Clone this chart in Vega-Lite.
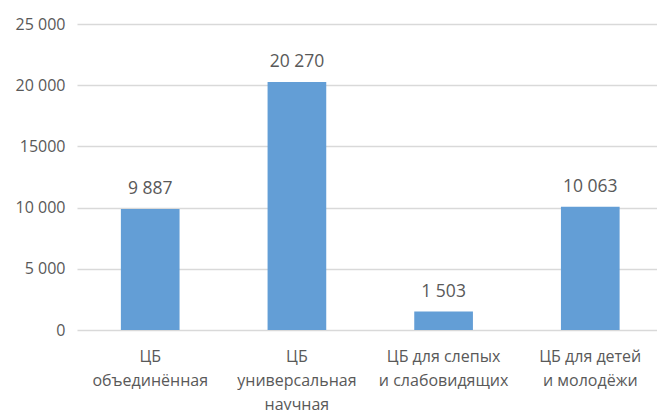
{
  "$schema": "https://vega.github.io/schema/vega-lite/v6.json",
  "autosize": {"type": "none"},
  "padding": {"left": 77, "top": 24, "right": 0, "bottom": 80},
  "width": 580,
  "height": 306,
  "background": "white",
  "config": {
    "view": {"stroke": null},
    "font": "Open Sans",
    "locale": {"number": {"decimal": ",", "thousands": " ", "grouping": [3], "currency": ["", ""]}}
  },
  "data": {
    "values": [
      {"library": "ЦБ|объединённая", "value": 9887},
      {"library": "ЦБ|универсальная|научная", "value": 20270},
      {"library": "ЦБ для слепых|и слабовидящих", "value": 1503},
      {"library": "ЦБ для детей|и молодёжи", "value": 10063}
    ]
  },
  "encoding": {
    "x": {
      "field": "library",
      "type": "nominal",
      "sort": null,
      "scale": {"paddingInner": 0.6, "paddingOuter": 0.277, "align": 0.54},
      "axis": {
        "title": null,
        "labelAngle": 0,
        "labelExpr": "split(datum.label, '|')",
        "labelFont": "Open Sans",
        "labelFontSize": 16,
        "labelColor": "#595959",
        "labelLineHeight": 24,
        "labelPadding": 18,
        "labelBaseline": "top",
        "ticks": false,
        "domain": false
      }
    },
    "y": {
      "field": "value",
      "type": "quantitative",
      "scale": {"domain": [0, 25000], "nice": false},
      "axis": {
        "title": null,
        "values": [0, 5000, 10000, 15000, 20000, 25000],
        "labelExpr": "datum.value == 15000 ? '15000' : format(datum.value, ',')",
        "labelFont": "Open Sans",
        "labelFontSize": 16,
        "labelColor": "#595959",
        "labelPadding": 12,
        "ticks": false,
        "domain": false,
        "gridColor": "#d9d9d9",
        "gridWidth": 1.5
      }
    }
  },
  "layer": [
    {"mark": {"type": "bar", "color": "#639ed6"}},
    {
      "mark": {"type": "text", "baseline": "alphabetic", "dy": -15, "fontSize": 17.5, "color": "#595959", "font": "Open Sans"},
      "encoding": {"text": {"field": "value", "type": "quantitative", "format": ","}}
    }
  ]
}
